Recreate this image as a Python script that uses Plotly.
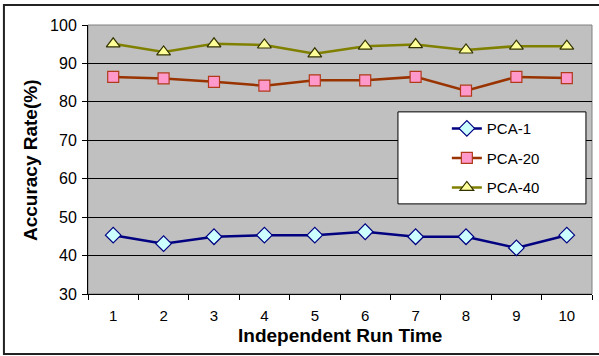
import plotly.graph_objects as go

# Run indices and accuracy (%) for each PCA setting
runs = ["1", "2", "3", "4", "5", "6", "7", "8", "9", "10"]
pca_1 = [45.3, 43.1, 44.9, 45.3, 45.3, 46.2, 44.9, 44.9, 42.0, 45.3]
pca_20 = [86.5, 86.1, 85.2, 84.2, 85.6, 85.6, 86.5, 82.9, 86.5, 86.2]
pca_40 = [95.1, 93.0, 95.1, 94.8, 92.5, 94.5, 94.9, 93.5, 94.5, 94.5]
y_ticks = [30, 40, 50, 60, 70, 80, 90, 100]

FONT = "Arial, Liberation Sans, sans-serif"

fig = go.Figure()

series = [
    ("PCA-1", pca_1, "#000080", "diamond", "#CCFFFF", "#000080", 12),
    ("PCA-20", pca_20, "#993300", "square", "#FF99CC", "#B03A1A", 11),
    ("PCA-40", pca_40, "#808000", "triangle-up", "#FFFF99", "#333300", 12),
]
for name, vals, lc, sym, fill, edge, size in series:
    fig.add_trace(go.Scatter(
        x=runs, y=vals, name=name, mode="lines+markers",
        legendgroup=name,
        line=dict(color=lc, width=2.5),
        marker=dict(symbol=sym, size=size, color=fill,
                    line=dict(color=edge, width=1.2)),
    ))

# plot-area frame (grey) and outer chart border (black)
fig.add_shape(type="rect", xref="paper", yref="paper", x0=0, x1=1, y0=0, y1=1,
              line=dict(color="#808080", width=1), layer="below")
fig.add_shape(type="rect", xref="paper", yref="paper",
              x0=-0.1668, x1=1.02, y0=-0.223, y1=1.0743,
              line=dict(color="#222222", width=2))
# legend box
fig.add_shape(type="rect", xref="paper", yref="paper",
              x0=0.615, x1=0.988, y0=0.335, y1=0.677,
              fillcolor="white", line=dict(color="black", width=1), layer="above")

# axis titles
fig.add_annotation(text="<b>Independent Run Time</b>", xref="paper", yref="paper",
                   x=0.5, y=-0.155, xanchor="center", yanchor="middle",
                   showarrow=False, font=dict(size=19, family=FONT))
fig.add_annotation(text="<b>Accuracy Rate(%)</b>", xref="paper", yref="paper",
                   x=-0.115, y=0.498, xanchor="center", yanchor="middle",
                   textangle=-90, showarrow=False, font=dict(size=19, family=FONT))

fig.update_layout(
    width=599, height=356,
    margin=dict(l=88, r=7, t=25, b=62),
    paper_bgcolor="white", plot_bgcolor="#C0C0C0",
    font=dict(family=FONT, color="black"),
    showlegend=True,
    legend=dict(x=0.712, y=0.676, xanchor="left", yanchor="top",
                bgcolor="rgba(0,0,0,0)", borderwidth=0,
                font=dict(size=15, family=FONT), tracegroupgap=7,
                itemwidth=30),
    xaxis=dict(
        type="category", tickson="boundaries", ticks="outside", ticklen=5,
        tickcolor="black", showline=True, linecolor="black", linewidth=1,
        showgrid=False, tickfont=dict(size=15), ticklabelstandoff=8,
        range=[-0.5, 9.5],
    ),
    yaxis=dict(
        range=[30, 100], tickvals=y_ticks, ticks="outside", ticklen=5,
        tickcolor="black", showline=True, linecolor="black", linewidth=1,
        showgrid=True, gridcolor="black", gridwidth=1,
        tickfont=dict(size=16), ticklabelstandoff=2,
    ),
)

fig.write_html("out.html")
